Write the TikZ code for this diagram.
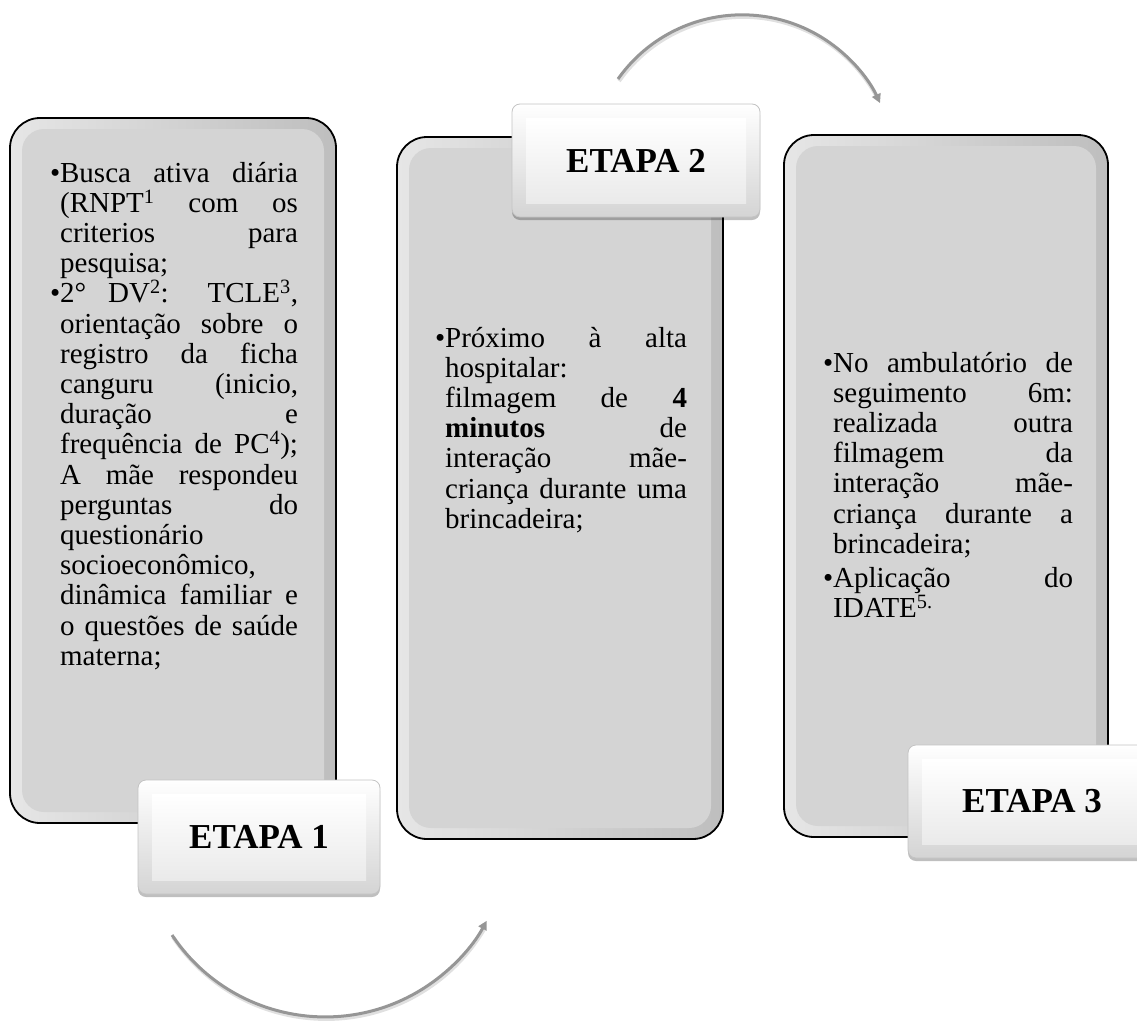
\documentclass[tikz,border=0pt]{standalone}
\usepackage{fontspec}
\setmainfont{Liberation Serif}
\usetikzlibrary{arrows.meta,shadows}
\definecolor{panelgray}{RGB}{212,212,212}
\definecolor{panellight}{RGB}{230,230,230}
\definecolor{paneldark}{RGB}{190,190,190}
\definecolor{tabedge}{RGB}{195,195,195}
\definecolor{tabdark}{RGB}{212,212,212}
\definecolor{tabface}{RGB}{234,234,234}
\definecolor{arrowgray}{RGB}{150,150,150}
\newlength\bulw
\newcommand\bitem[1]{\par\settowidth\bulw{•}\noindent\hangindent\bulw\hangafter1 \makebox[\bulw][l]{•}#1\par}
\newcommand\txtsetup{\fontsize{29}{30.2}\selectfont\parindent0pt\tolerance10000\hyphenpenalty10000\emergencystretch0pt}
\begin{document}
\begin{tikzpicture}[x=1pt,y=-1pt,
  panel/.style={draw=black, line width=1.8pt, rounded corners=30pt, inner sep=0pt, outer sep=0pt, left color=panellight, right color=paneldark},
  panelin/.style={fill=panelgray, rounded corners=22pt, inner sep=0pt, outer sep=0pt},
  tab/.style={draw=tabedge, line width=0.8pt, rounded corners=8pt, top color=white, bottom color=tabdark, inner sep=0pt, outer sep=0pt,
    drop shadow={shadow xshift=0pt, shadow yshift=-3pt, opacity=0.25, fill=black}},
  tabin/.style={top color=white, bottom color=tabface, inner sep=0pt, outer sep=0pt, font=\fontsize{35}{40}\selectfont\bfseries},
  textblk/.style={inner sep=0pt, outer sep=0pt, anchor=base west},
  flowarrow/.style={draw=arrowgray, line width=3pt, -{Triangle[length=9pt,width=9pt]}},
  arrowshade/.style={draw=black, opacity=0.12, line width=4pt}
]
\useasboundingbox (0,0) rectangle (1137,1020);

% arrows
\coordinate (a1s) at (618,79);
\coordinate (a2s) at (172,935);
\draw[arrowshade] ([xshift=1pt,yshift=-2pt]a1s) arc[start angle=-144.7, end angle=-27, radius=152];
\draw[arrowshade] ([xshift=1pt,yshift=-2pt]a2s) arc[start angle=146.3, end angle=31, radius=184];
\draw[flowarrow] (a1s) arc[start angle=-144.7, end angle=-24.8, radius=152];
\draw[flowarrow] (a2s) arc[start angle=146.3, end angle=28.5, radius=184];

% panels
\node[panel, minimum width=326pt, minimum height=705pt] (p1) at (173,470.5) {};
\node[panelin, minimum width=302pt, minimum height=683pt] (p1in) at (p1.center) {};
\node[panel, minimum width=326pt, minimum height=702pt] (p2) at (560,488) {};
\node[panelin, minimum width=302pt, minimum height=680pt] (p2in) at (p2.center) {};
\node[panel, minimum width=324pt, minimum height=702pt] (p3) at (946,486) {};
\node[panelin, minimum width=300pt, minimum height=680pt] (p3in) at (p3.center) {};

% texts
\node[textblk] (t1) at (50,182) {\parbox[t]{248pt}{\txtsetup
\bitem{Busca ativa diária\linebreak (RNPT\textsuperscript{1} com os\linebreak criterios para\linebreak pesquisa;}
\bitem{2° DV\textsuperscript{2}: TCLE\textsuperscript{3},\linebreak orientação sobre o\linebreak registro da ficha\linebreak canguru (inicio,\linebreak duração e\linebreak frequência de PC\textsuperscript{4});\linebreak A mãe respondeu\linebreak perguntas do\linebreak questionário\linebreak socioeconômico,\linebreak dinâmica familiar e\linebreak o questões de saúde\linebreak materna;}}};

\node[textblk] (t2) at (435,347) {\parbox[t]{252pt}{\txtsetup
\bitem{Próximo à alta\linebreak hospitalar:\linebreak filmagem de \textbf{4}\linebreak \textbf{minutos} de\linebreak interação mãe-\linebreak criança durante uma\linebreak brincadeira;}}};

\node[textblk] (t3) at (823,372) {\parbox[t]{250pt}{\txtsetup\parskip4pt
\bitem{No ambulatório de\linebreak seguimento 6m:\linebreak realizada outra\linebreak filmagem da\linebreak interação mãe-\linebreak criança durante a\linebreak brincadeira;}
\bitem{Aplicação do\linebreak IDATE\textsuperscript{5.}}}};

% tabs
\node[tab, minimum width=242pt, minimum height=114pt] (e1) at (259,837) {};
\node[tabin, minimum width=214pt, minimum height=86pt] (e1in) at (e1.center) {ETAPA 1};
\node[tab, minimum width=248pt, minimum height=113pt] (e2) at (636,160.5) {};
\node[tabin, minimum width=220pt, minimum height=85pt] (e2in) at (e2.center) {ETAPA 2};
\node[tab, minimum width=248pt, minimum height=113pt] (e3) at (1032,801.5) {};
\node[tabin, minimum width=220pt, minimum height=85pt] (e3in) at (e3.center) {ETAPA 3};
\end{tikzpicture}
\end{document}
